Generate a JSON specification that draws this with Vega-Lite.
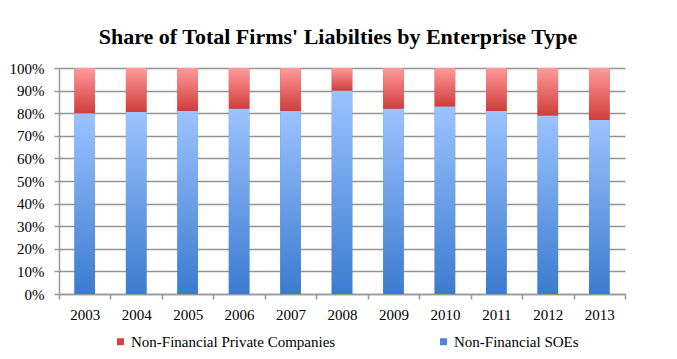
{
  "$schema": "https://vega.github.io/schema/vega-lite/v6.json",
  "width": 566,
  "height": 226,
  "autosize": {"type": "none"},
  "padding": {"left": 59, "top": 68, "right": 52, "bottom": 65},
  "background": "white",
  "title": {
    "text": "Share of Total Firms' Liabilties by Enterprise Type",
    "font": "Liberation Serif",
    "fontSize": 22,
    "fontWeight": "bold",
    "color": "#000000",
    "anchor": "middle",
    "offset": 12,
    "dx": -4
  },
  "data": {
    "values": [
      {"year": "2003", "type": "Non-Financial SOEs", "share": 0.80},
      {"year": "2003", "type": "Non-Financial Private Companies", "share": 0.20},
      {"year": "2004", "type": "Non-Financial SOEs", "share": 0.805},
      {"year": "2004", "type": "Non-Financial Private Companies", "share": 0.195},
      {"year": "2005", "type": "Non-Financial SOEs", "share": 0.81},
      {"year": "2005", "type": "Non-Financial Private Companies", "share": 0.19},
      {"year": "2006", "type": "Non-Financial SOEs", "share": 0.82},
      {"year": "2006", "type": "Non-Financial Private Companies", "share": 0.18},
      {"year": "2007", "type": "Non-Financial SOEs", "share": 0.81},
      {"year": "2007", "type": "Non-Financial Private Companies", "share": 0.19},
      {"year": "2008", "type": "Non-Financial SOEs", "share": 0.90},
      {"year": "2008", "type": "Non-Financial Private Companies", "share": 0.10},
      {"year": "2009", "type": "Non-Financial SOEs", "share": 0.82},
      {"year": "2009", "type": "Non-Financial Private Companies", "share": 0.18},
      {"year": "2010", "type": "Non-Financial SOEs", "share": 0.83},
      {"year": "2010", "type": "Non-Financial Private Companies", "share": 0.17},
      {"year": "2011", "type": "Non-Financial SOEs", "share": 0.81},
      {"year": "2011", "type": "Non-Financial Private Companies", "share": 0.19},
      {"year": "2012", "type": "Non-Financial SOEs", "share": 0.79},
      {"year": "2012", "type": "Non-Financial Private Companies", "share": 0.21},
      {"year": "2013", "type": "Non-Financial SOEs", "share": 0.77},
      {"year": "2013", "type": "Non-Financial Private Companies", "share": 0.23}
    ]
  },
  "encoding": {
    "x": {
      "field": "year",
      "type": "ordinal",
      "title": null,
      "scale": {"paddingInner": 0, "paddingOuter": 0},
      "axis": {
        "labelAngle": 0,
        "tickBand": "extent",
        "grid": false,
        "tickSize": 5,
        "labelPadding": 8,
        "domainColor": "#999999",
        "domainWidth": 1.5,
        "tickColor": "#999999",
        "tickWidth": 1.5
      }
    },
    "y": {
      "field": "share",
      "type": "quantitative",
      "stack": "zero",
      "title": null,
      "scale": {"domain": [0, 1], "nice": false},
      "axis": {
        "values": [0, 0.1, 0.2, 0.3, 0.4, 0.5, 0.6, 0.7, 0.8, 0.9, 1],
        "format": ".0%",
        "tickSize": 5,
        "labelPadding": 10,
        "domainColor": "#999999",
        "domainWidth": 1.5,
        "tickColor": "#999999",
        "tickWidth": 1.5,
        "gridColor": "#939393",
        "gridWidth": 1.6
      }
    },
    "order": {"field": "type", "sort": "descending"}
  },
  "layer": [
    {
      "mark": {"type": "bar", "width": {"band": 0.4}},
      "encoding": {
        "color": {
          "field": "type",
          "type": "nominal",
          "scale": {
            "domain": ["Non-Financial Private Companies", "Non-Financial SOEs"],
            "range": ["#D9413F", "#4A85D6"]
          },
          "legend": {
            "title": null,
            "orient": "none",
            "legendX": 54,
            "legendY": 266,
            "direction": "horizontal",
            "symbolType": "square",
            "symbolSize": 49,
            "symbolStrokeWidth": 0,
            "labelFont": "Liberation Serif",
            "labelFontSize": 15,
            "labelColor": "#000000",
            "labelOffset": 3,
            "columnPadding": 100,
            "labelLimit": 400
          }
        }
      }
    },
    {
      "mark": {"type": "bar", "width": {"band": 0.4}},
      "encoding": {
        "detail": {"field": "type"},
        "fill": {
          "condition": {
            "test": "datum.type === 'Non-Financial SOEs'",
            "value": {
              "gradient": "linear",
              "x1": 0, "y1": 0, "x2": 0, "y2": 1,
              "stops": [
                {"offset": 0, "color": "#9CC3FF"},
                {"offset": 1, "color": "#3B7BCF"}
              ]
            }
          },
          "value": {
            "gradient": "linear",
            "x1": 0, "y1": 0, "x2": 0, "y2": 1,
            "stops": [
              {"offset": 0, "color": "#FF9B9B"},
              {"offset": 1, "color": "#CF3D3B"}
            ]
          }
        }
      }
    }
  ],
  "config": {
    "view": {"stroke": null},
    "axis": {
      "labelFont": "Liberation Serif",
      "labelFontSize": 15,
      "labelColor": "#000000"
    }
  }
}
